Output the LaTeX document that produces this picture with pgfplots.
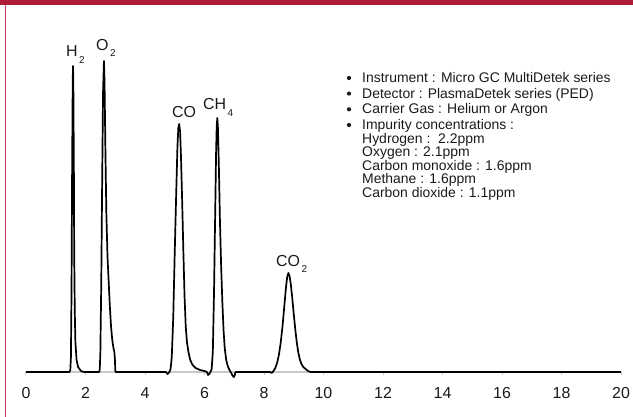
\documentclass[border=0pt]{standalone}
\usepackage{fontspec}
\setmainfont{Liberation Sans}
\usepackage{pgfplots}
\pgfplotsset{compat=1.18}
\definecolor{barred}{HTML}{AE1C37}
\definecolor{edgered}{HTML}{C4445E}
\definecolor{axgray}{HTML}{C8C8C8}
\definecolor{txt}{HTML}{1A1A1A}

% chemical label with the index set below the baseline, as in the source
\newcommand{\chem}[3]{#1\hspace{1.5bp}\raisebox{#3}{\fontsize{10}{10}\selectfont #2}}

\begin{document}
\begin{tikzpicture}
\useasboundingbox (0,0) rectangle (633bp,417bp);
\fill[white] (0,0) rectangle (633bp,417bp);
\fill[barred] (0,412bp) rectangle (633bp,417bp);
\draw[edgered, line width=1.5bp] (5.5bp,0) -- (5.5bp,412bp);

\begin{axis}[
  at={(26bp,45bp)}, anchor=south west,
  scale only axis, width=595bp, height=320bp,
  xmin=0, xmax=20, ymin=0, ymax=320,
  clip=false,
  axis y line=none, axis x line*=bottom,
  x axis line style={axgray, line width=1.2bp},
  xtick={0,2,...,20},
  tick style={axgray, line width=1bp},
  tick align=outside, major tick length=3.5bp,
  xticklabel style={font=\fontsize{16}{16}\selectfont, text=txt},
  /pgf/number format/assume math mode=true,
  xticklabel shift=8.5bp,
]
\addplot[black, line width=1.7bp, line join=round, sharp plot] coordinates {
  (0,0) (1.46,0) (1.49,2) (1.51,15) (1.53,80) (1.55,200) (1.57,290) (1.58,306)
  (1.59,295) (1.61,200) (1.62,120) (1.64,60) (1.66,30) (1.70,12) (1.75,5)
  (1.85,1) (1.95,0)
  (2.46,0) (2.48,3) (2.50,20) (2.53,90) (2.56,190) (2.59,280) (2.62,311)
  (2.64,290) (2.67,220) (2.70,160) (2.74,115) (2.78,90) (2.82,65) (2.86,45)
  (2.90,32) (2.94,24) (2.97,20) (2.99,12) (3.00,2) (3.01,0)
  (4.70,0) (4.76,-2) (4.82,0) (4.86,3) (4.90,15) (4.95,55) (5.00,120)
  (5.05,180) (5.09,225) (5.12,244) (5.15,248) (5.18,240) (5.21,215) (5.25,170)
  (5.29,120) (5.33,75) (5.37,45) (5.41,30) (5.46,20) (5.52,12) (5.60,7)
  (5.70,4) (5.85,2) (6.00,1) (6.08,0) (6.12,-3) (6.16,-2) (6.20,0)
  (6.24,3) (6.28,20) (6.32,80) (6.36,160) (6.39,220) (6.41,245) (6.43,254)
  (6.45,245) (6.48,210) (6.52,150) (6.56,105) (6.60,70) (6.64,42) (6.68,24)
  (6.73,12) (6.78,6) (6.84,2) (6.90,-1) (6.95,-4) (6.99,-5) (7.02,-3) (7.04,0)
  (8.20,0) (8.26,-1) (8.32,1) (8.38,4) (8.44,9) (8.50,17) (8.56,29) (8.62,45)
  (8.68,65) (8.74,85) (8.78,95) (8.82,99) (8.86,96) (8.90,88) (8.95,74)
  (9.00,58) (9.05,43) (9.10,30) (9.15,20) (9.20,13) (9.26,8) (9.32,5)
  (9.40,3) (9.48,1) (9.56,0) (20,0)
};

\begin{scope}[every node/.style={anchor=base west, inner sep=0pt, text=txt,
    font=\fontsize{16}{16}\selectfont}]
\node at (axis cs:1.345,315) {\chem{H}{2}{-7bp}};
\node at (axis cs:2.353,321) {\chem{O}{2}{-6bp}};
\node at (axis cs:4.908,254) {CO};
\node at (axis cs:5.950,262) {\chem{CH}{4}{-6.5bp}};
\node at (axis cs:8.403,105) {\chem{CO}{2}{-6bp}};
\end{scope}
\end{axis}

\begin{scope}[every node/.style={anchor=base west, inner sep=0pt, text=txt,
    font=\fontsize{14}{14}\selectfont}]
\fill[txt] (349bp,339bp) circle (2.1bp);
\node at (362bp,334.3bp) {Instrument : Micro GC MultiDetek series};
\fill[txt] (349bp,323.4bp) circle (2.1bp);
\node at (362bp,318.7bp) {Detector : PlasmaDetek series (PED)};
\fill[txt] (349bp,307.7bp) circle (2.1bp);
\node at (362bp,303bp) {Carrier Gas : Helium or Argon};
\fill[txt] (349bp,292bp) circle (2.1bp);
\node at (362bp,287.3bp) {Impurity concentrations :};
\node at (362bp,273.6bp) {Hydrogen :\ \ 2.2ppm};
\node at (362bp,260bp) {Oxygen : 2.1ppm};
\node at (362bp,246.5bp) {Carbon monoxide : 1.6ppm};
\node at (362bp,233bp) {Methane : 1.6ppm};
\node at (362bp,219.5bp) {Carbon dioxide : 1.1ppm};
\end{scope}
\end{tikzpicture}
\end{document}
